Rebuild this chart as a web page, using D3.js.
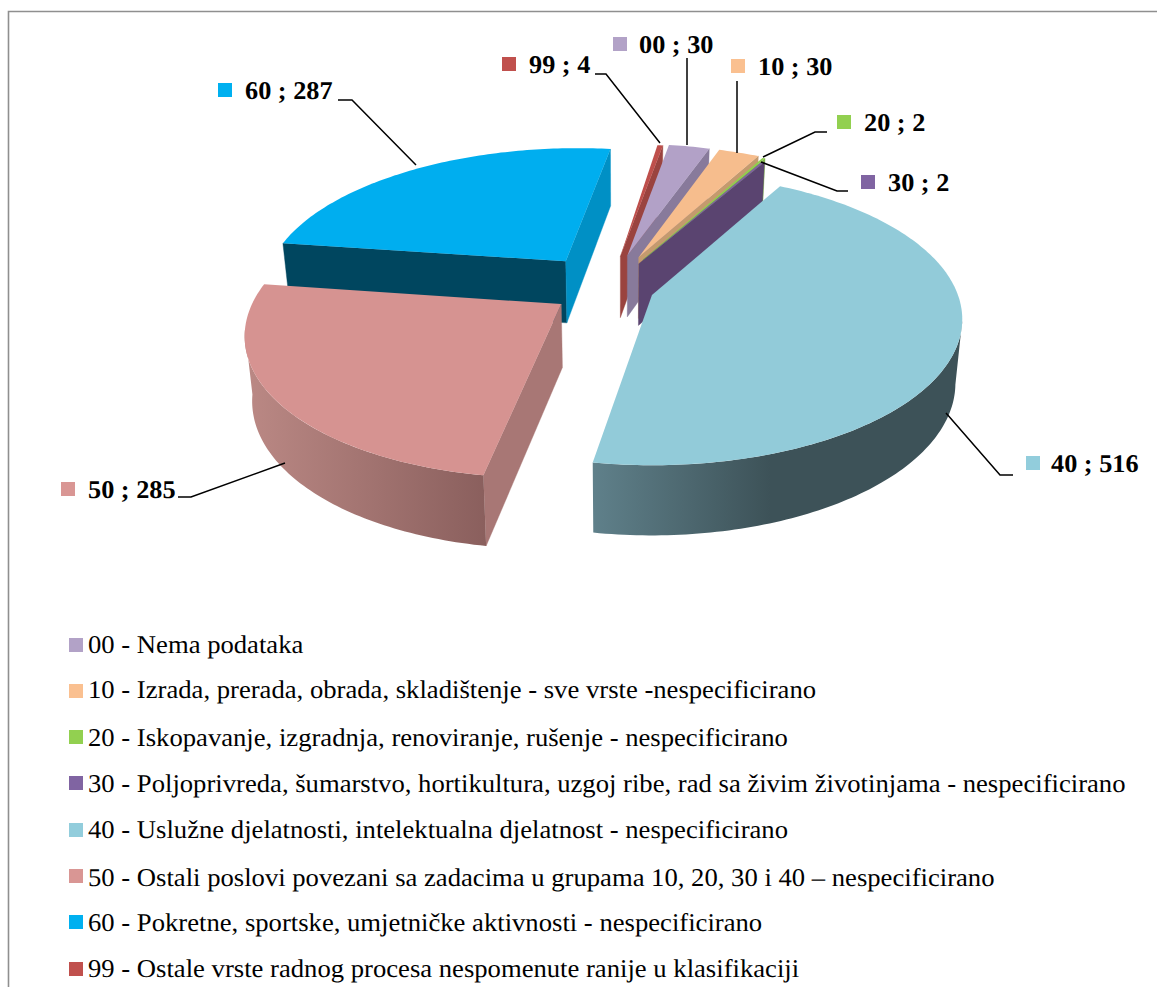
<!DOCTYPE html>
<html><head><meta charset="utf-8">
<style>html,body{margin:0;padding:0;background:#fff}svg{display:block}text{font-family:"Liberation Serif",serif;fill:#000;text-rendering:geometricPrecision}</style>
<script src="https://cdn.jsdelivr.net/npm/d3@7"></script></head><body>
<script>
const codes=["00","10","20","30","40","50","60","99"];
const values=[30,30,2,2,516,285,287,4];
const legendLabels=[
"00 - Nema podataka",
"10 - Izrada, prerada, obrada, skladištenje - sve vrste -nespecificirano",
"20 - Iskopavanje, izgradnja, renoviranje, rušenje - nespecificirano",
"30 - Poljoprivreda, šumarstvo, hortikultura, uzgoj ribe, rad sa živim životinjama - nespecificirano",
"40 - Uslužne djelatnosti, intelektualna djelatnost - nespecificirano",
"50 - Ostali poslovi povezani sa zadacima u grupama 10, 20, 30 i 40 – nespecificirano",
"60 - Pokretne, sportske, umjetničke aktivnosti - nespecificirano",
"99 - Ostale vrste radnog procesa nespomenute ranije u klasifikaciji"];
const swatchColors=["#b2a2c7","#fac090","#92d050","#8064a2","#92cddc","#d99694","#00b0f0","#c0504d"];
const topColors=["#b2a1c7","#f6bd8d","#8fd04e","#7e62a0","#92cbd9","#d69391","#00aeef","#be4f4b"];
const faceStartColors=["#887a9b","#c49a6e","#6f9d3c","#5a4470","#5f808a","#a87775","#00465f","#9a433f"];
const faceEndColors=["#887a9b","#c49a6e","#7cb346","#5a4470","#5f808a","#a87775","#0090c5","#9a433f"];
const explode=[0.25,0.25,0.24,0.205,0.15,0.188,0.25,0.24];
const drawOrder=["60","99","00","10","20","30","40","50"];
const wallStops={"40":[[594,"#5f808a"],[770,"#3d5258"],[965,"#3d5258"]],"50":[[250,"#ba8884"],[486,"#8a5f5d"]]};

// label layout
const labelLayout={
"00":{sw:[613,37],tx:639},"10":{sw:[731,59],tx:758},"20":{sw:[837,115],tx:864},"30":{sw:[861,175],tx:888},
"40":{sw:[1026,456],tx:1051},"50":{sw:[61,482],tx:88},"60":{sw:[218,83],tx:245},"99":{sw:[502,57],tx:529}};
const leaderPaths={
"00":[[687,145],[687,58]],
"10":[[737,153],[737,81]],
"20":[[763,157],[815,132],[827,132]],
"30":[[761,162],[837,191],[848,191]],
"40":[[946,413],[1000,475],[1013,475]],
"50":[[285,463],[191,497],[178,497]],
"60":[[416,165],[352,100],[338,100]],
"99":[[660,143],[606,74],[595,74]]};
const legendRows=[[638,653],[684,698],[730,746],[776,792],[823,838],[869,886],[915,931],[962,977]];

const W=1157,H=987;
const svg=d3.select("body").append("svg").attr("width",W).attr("height",H);
const defs=svg.append("defs");

// border
svg.append("path").attr("d",`M8.5,${H}V11.5H${W}`).attr("fill","none").attr("stroke","#8f8f8f").attr("stroke-width",1.6);

// perspective projection
const AX=652,AY=295,R=306,kR=142,p=0.165,VX=620,SHRINK=0.98;
function topPt(X,Y){const d=1-p*Y;return [AX+R*X/d,AY+kR*Y/d];}
function bot(pt){const v=(pt[1]-AY)/kR;return [VX+(pt[0]-VX)*SHRINK,pt[1]+63+6*v];}
const OX=-0.142,OY=-0.048;

const startAngle=8.7*Math.PI/180;
const arcs=d3.pie().sort(null).value(d=>d).startAngle(startAngle).endAngle(startAngle+2*Math.PI)(values);
const line=d3.line();
const DEG=Math.PI/180;

function sliceGeom(i){
  const a=arcs[i],mid=(a.startAngle+a.endAngle)/2,e=explode[i];
  const cx=OX+e*Math.sin(mid),cy=OY-e*Math.cos(mid);
  const pt=t=>topPt(cx+Math.sin(t),cy-Math.cos(t));
  return {a,cx,cy,pt,apex:topPt(cx,cy)};
}
const samples=(a0,a1)=>{const n=Math.max(2,Math.ceil((a1-a0)/DEG));return d3.range(n+1).map(j=>a0+(a1-a0)*j/n);};

// leaders
const leaderG=svg.append("g");

drawOrder.forEach(code=>{
  const i=codes.indexOf(code),g=sliceGeom(i),a=g.a;
  const G=svg.append("g").attr("class","slice-"+code);
  const rim=samples(a.startAngle,a.endAngle).map(g.pt);
  const face=(t,col)=>{const r=g.pt(t);
    G.append("path").attr("d",line([g.apex,r,bot(r),bot(g.apex)])+"Z").attr("fill",col).attr("stroke",col).attr("stroke-width",0.4);};
  const sinS=Math.sin(a.startAngle),sinE=Math.sin(a.endAngle);
  if(sinS<0) face(a.startAngle,faceStartColors[i]);
  if(sinE>0) face(a.endAngle,faceEndColors[i]);
  // outer wall: only the part of the rim that faces the viewer
  const lo=Math.max(a.startAngle,100*DEG),hi=Math.min(a.endAngle,260*DEG);
  if(hi>lo && wallStops[code]){
    const wt=samples(lo,hi).map(g.pt);
    const id="wall"+code,st=wallStops[code],x0=st[0][0],x1=st[st.length-1][0];
    const gr=defs.append("linearGradient").attr("id",id).attr("gradientUnits","userSpaceOnUse")
      .attr("x1",x0).attr("x2",x1).attr("y1",0).attr("y2",0);
    st.forEach(s=>gr.append("stop").attr("offset",(s[0]-x0)/(x1-x0)).attr("stop-color",s[1]));
    G.append("path").attr("d",line(wt.concat(wt.map(bot).reverse()))+"Z").attr("fill",`url(#${id})`);
  }
  G.append("path").attr("d",line([g.apex].concat(rim))+"Z").attr("fill",topColors[i]);
});

leaderG.raise();
codes.forEach(code=>{
  leaderG.append("path").attr("d",line(leaderPaths[code])).attr("fill","none").attr("stroke","#000").attr("stroke-width",1.5);
});

// data labels
const stretched=(x,y,s,size,weight,sx)=>svg.append("text").attr("transform",`translate(${x},${y}) scale(${sx},1)`)
  .attr("font-size",size).attr("font-weight",weight).text(s);
codes.forEach((code,i)=>{
  const L=labelLayout[code];
  svg.append("rect").attr("x",L.sw[0]).attr("y",L.sw[1]).attr("width",14).attr("height",14).attr("fill",swatchColors[i]);
  stretched(L.tx,L.sw[1]+16,`${code} ; ${values[i]}`,25.5,"bold",1.03);
});
// legend
legendLabels.forEach((s,i)=>{
  const r=legendRows[i];
  svg.append("rect").attr("x",69).attr("y",r[0]).attr("width",14).attr("height",14).attr("fill",swatchColors[i]);
  stretched(88,r[1],s,25.5,"normal",1.045);
});
</script></body></html>
